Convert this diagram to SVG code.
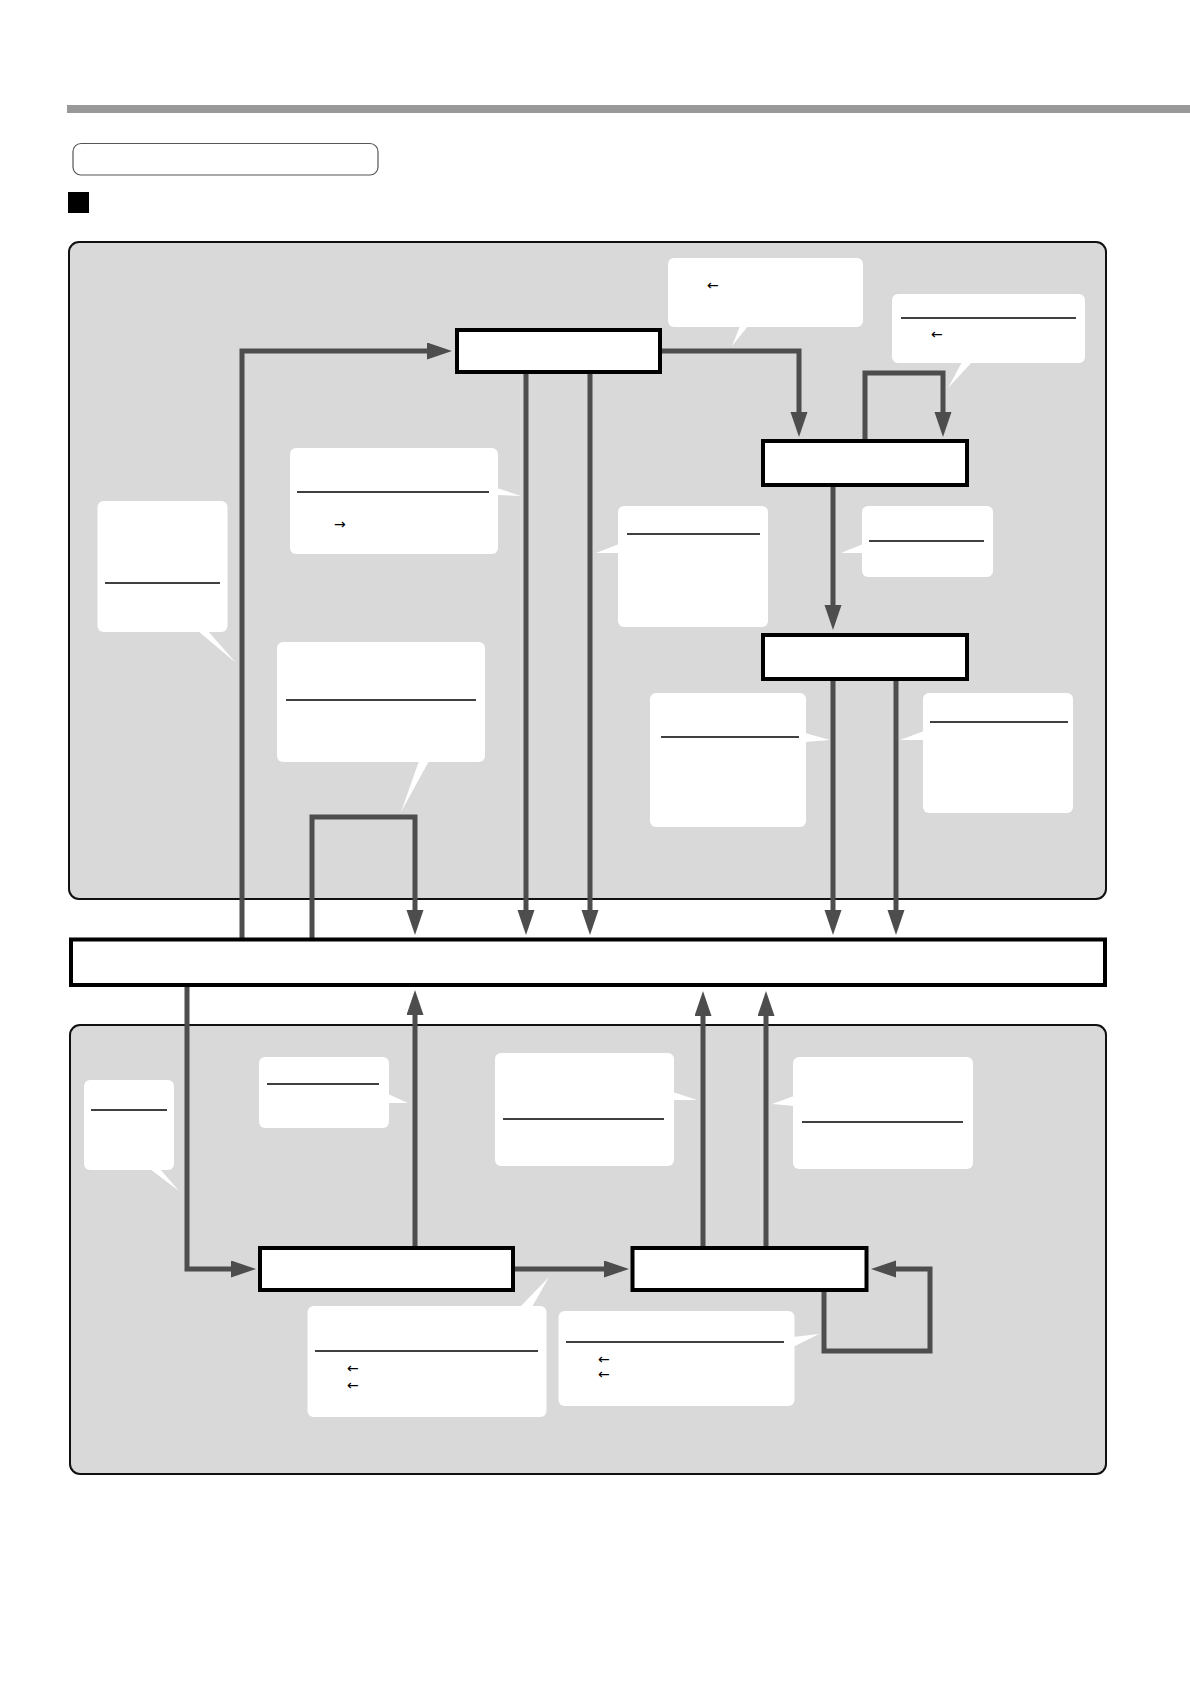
<svg xmlns="http://www.w3.org/2000/svg" width="1190" height="1684" viewBox="0 0 1190 1684">
<defs>
<marker id="ah" markerUnits="userSpaceOnUse" markerWidth="26" markerHeight="18" refX="10" refY="8.5" orient="auto">
<path d="M0,0 L25,8.5 L0,17 z" fill="#4d4d4d"/>
</marker>
</defs>
<style>
.panel{fill:#d9d9d9;stroke:#111;stroke-width:2}
.node{fill:#fff;stroke:#000;stroke-width:4}
.co{fill:#fff}
.ul{stroke:#000;stroke-width:1.3}
.cn{fill:none;stroke:#4d4d4d;stroke-width:5;marker-end:url(#ah)}
.t{font-family:"DejaVu Sans","Liberation Sans",sans-serif;font-size:14px;fill:#000}
</style>
<rect width="1190" height="1684" fill="#fff"/>
<rect x="67" y="105" width="1123" height="8" fill="#999"/>
<rect x="73" y="143.5" width="305" height="31.5" rx="8" fill="#fff" stroke="#555" stroke-width="1.2"/>
<rect x="68" y="192" width="21" height="21" fill="#000"/>
<rect class="panel" x="69" y="242" width="1037" height="657" rx="10"/>
<rect class="panel" x="70" y="1025" width="1036" height="449" rx="10"/>
<g id="callouts">
<g id="c1"><rect class="co" x="668" y="258" width="195" height="69" rx="6"/><polygon class="co" points="740,326 748,326 732,346"/><text class="t" x="707" y="290">←</text></g>
<g id="c2"><rect class="co" x="892" y="294" width="193" height="69" rx="6"/><polygon class="co" points="962,362 972,362 948,388"/><line class="ul" x1="901" y1="318" x2="1076" y2="318"/><text class="t" x="931" y="339">←</text></g>
<g id="c3"><rect class="co" x="97.5" y="501" width="130" height="131" rx="6"/><polygon class="co" points="198,631 208,631 236,663"/><line class="ul" x1="105" y1="583" x2="220" y2="583"/></g>
<g id="c4"><rect class="co" x="290" y="448" width="208" height="106" rx="6"/><polygon class="co" points="497,488 497,495 521,496"/><line class="ul" x1="297" y1="492" x2="489" y2="492"/><text class="t" x="334" y="529">→</text></g>
<g id="c5"><rect class="co" x="277" y="642" width="208" height="120" rx="6"/><polygon class="co" points="419,761 429,761 401,812"/><line class="ul" x1="286" y1="700" x2="476" y2="700"/></g>
<g id="c6"><rect class="co" x="618" y="506" width="150" height="121" rx="6"/><polygon class="co" points="619,544 619,553 596,553"/><line class="ul" x1="627" y1="534" x2="760" y2="534"/></g>
<g id="c7"><rect class="co" x="862" y="506" width="131" height="71" rx="6"/><polygon class="co" points="863,544 863,553 841,553"/><line class="ul" x1="869" y1="541" x2="984" y2="541"/></g>
<g id="c8"><rect class="co" x="650" y="693" width="156" height="134" rx="6"/><polygon class="co" points="805,733 805,742 830,740"/><line class="ul" x1="661" y1="737" x2="799" y2="737"/></g>
<g id="c9"><rect class="co" x="923" y="693" width="150" height="120" rx="6"/><polygon class="co" points="924,731 924,740 900,740"/><line class="ul" x1="930" y1="722" x2="1068" y2="722"/></g>
<g id="c10"><rect class="co" x="84" y="1080" width="90" height="90" rx="6"/><polygon class="co" points="150,1169 160,1169 179,1191"/><line class="ul" x1="91" y1="1110" x2="167" y2="1110"/></g>
<g id="c11"><rect class="co" x="259" y="1057" width="130" height="71" rx="6"/><polygon class="co" points="388,1094 388,1103 408,1103"/><line class="ul" x1="267" y1="1084" x2="379" y2="1084"/></g>
<g id="c12"><rect class="co" x="495" y="1053" width="179" height="113" rx="6"/><polygon class="co" points="673,1092 673,1100 697,1100"/><line class="ul" x1="503" y1="1119" x2="664" y2="1119"/></g>
<g id="c13"><rect class="co" x="793" y="1057" width="180" height="112" rx="6"/><polygon class="co" points="794,1096 794,1106 772,1104"/><line class="ul" x1="802" y1="1122" x2="963" y2="1122"/></g>
<g id="c14"><rect class="co" x="307.5" y="1306" width="239" height="111" rx="6"/><polygon class="co" points="520,1307 532,1307 549,1277"/><line class="ul" x1="315" y1="1351" x2="538" y2="1351"/><text class="t" x="347" y="1373">←</text><text class="t" x="347" y="1390">←</text></g>
<g id="c15"><rect class="co" x="558.5" y="1311" width="236" height="95" rx="6"/><polygon class="co" points="793,1337 793,1347 819,1334"/><line class="ul" x1="566" y1="1342" x2="784" y2="1342"/><text class="t" x="598" y="1364">←</text><text class="t" x="598" y="1379">←</text></g>
</g>
<g id="connectors">
<path class="cn" d="M242,939 V351 H437"/>
<path class="cn" d="M526,374 V920"/>
<path class="cn" d="M590,374 V920"/>
<path class="cn" d="M662,351 H799 V422"/>
<path class="cn" d="M865,440 V373 H943 V422"/>
<path class="cn" d="M833,487 V615"/>
<path class="cn" d="M833,681 V920"/>
<path class="cn" d="M896,681 V920"/>
<path class="cn" d="M312,939 V817 H415 V920"/>
<path class="cn" d="M415,1246 V1005"/>
<path class="cn" d="M703,1246 V1006"/>
<path class="cn" d="M766,1246 V1006"/>
<path class="cn" d="M187,986 V1269 H241"/>
<path class="cn" d="M515,1269 H614"/>
<path class="cn" d="M824,1292 V1351 H930 V1269 H886"/>
</g>
<g id="nodeA"><rect class="node" x="457" y="330" width="203" height="42"/></g>
<g id="nodeB"><rect class="node" x="763" y="441" width="204" height="44"/></g>
<g id="nodeC"><rect class="node" x="763" y="635" width="204" height="44"/></g>
<g id="bus"><rect class="node" x="71" y="939.5" width="1034" height="45.5"/></g>
<g id="nodeD"><rect class="node" x="260" y="1248" width="253" height="42"/></g>
<g id="nodeE"><rect class="node" x="632.5" y="1248" width="234" height="42"/></g>
</svg>
